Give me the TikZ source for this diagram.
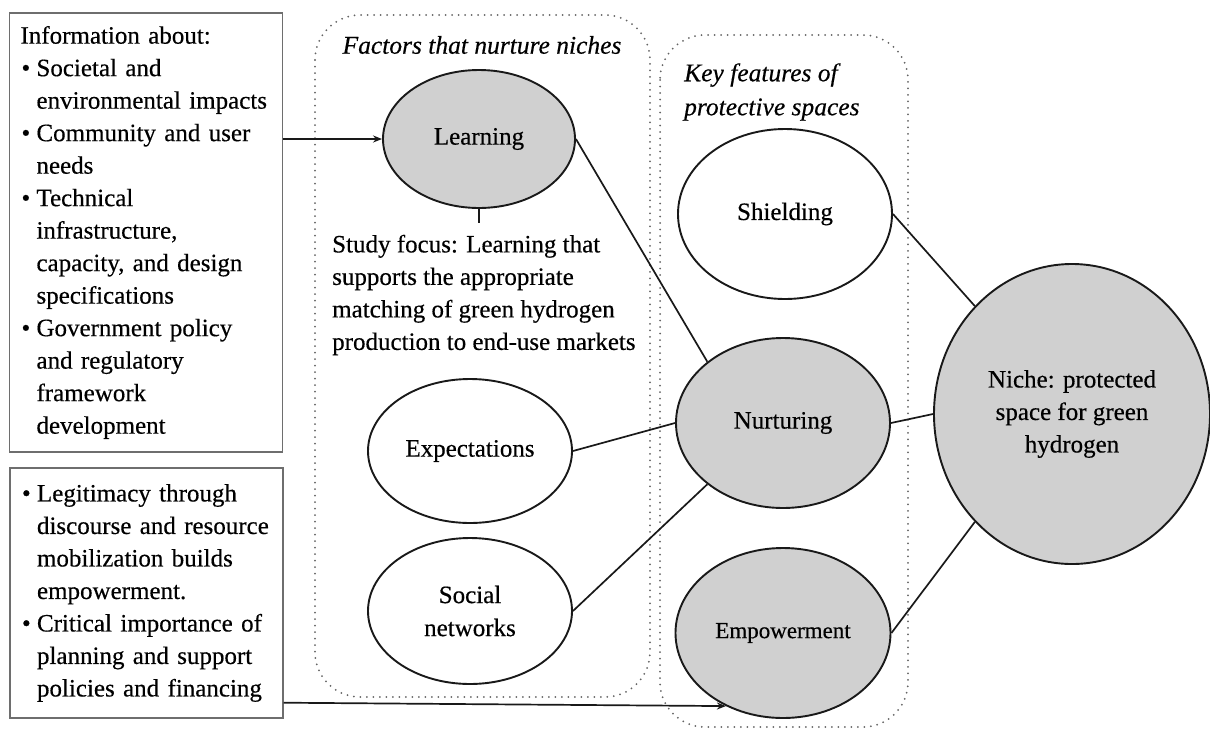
\documentclass[tikz,border=0pt]{standalone}
\usepackage{fontspec}
\setmainfont{Liberation Serif}[FakeBold=0.4,AutoFakeBold=0.4]
\usetikzlibrary{shapes.geometric,arrows.meta}
\definecolor{nichegray}{RGB}{208,208,208}
\definecolor{framegray}{RGB}{110,110,110}
\definecolor{dotgray}{RGB}{100,100,100}
% bullet and hanging indent for the information lists
\newcommand\infobullet{\makebox[16pt][l]{\hspace{1pt}\textbullet}}
\newcommand\contline{\hspace*{16pt}}
\begin{document}
\begin{tikzpicture}[x=1pt,y=-1pt,
  txt/.style={font=\fontsize{25}{32.5}\selectfont\bfseries},
  infobox/.style={draw=framegray, line width=1.4pt, align=left, text width=251pt,
    inner xsep=11pt, inner ysep=0pt, txt},
  oval/.style={ellipse, draw=black!90, fill=white, line width=1.9pt, inner sep=0pt,
    align=center, txt},
  filled/.style={oval, fill=nichegray},
  region/.style={draw=dotgray, line width=2pt, dash pattern=on 0pt off 6.5pt,
    line cap=round, rounded corners=45pt},
  link/.style={draw=black!90, line width=1.7pt},
  feed/.style={link, -{Stealth[length=9pt,width=7pt]}},
  heading/.style={font=\fontsize{25.5}{34}\selectfont\itshape\bfseries, align=left, inner sep=0pt},
]
\useasboundingbox (0,0) rectangle (1210,729);

% dotted groupings
\draw[region] (315,15) rectangle (650,697);
\draw[region] (660,35) rectangle (908,727);

% group headings
\node[heading] (hfactors) at (482,45) {Factors that nurture niches};
\node[heading, anchor=west] (hfeatures) at (684,92) {Key features of\\protective spaces};

% information boxes
\node[infobox, minimum height=439pt] (topbox) at (146,232.5) {%
Information about:\\
\infobullet Societal and\\
\contline environmental impacts\\
\infobullet Community and user\\
\contline needs\\
\infobullet Technical\\
\contline infrastructure,\\
\contline capacity, and design\\
\contline specifications\\
\infobullet Government policy\\
\contline and regulatory\\
\contline framework\\
\contline development};

\node[infobox, minimum height=250pt] (botbox) at (146.5,593) {%
\infobullet Legitimacy through\\
\contline discourse and resource\\
\contline mobilization builds\\
\contline empowerment.\\
\infobullet Critical importance of\\
\contline planning and support\\
\contline policies and financing};

% factors that nurture niches
\node[filled, minimum width=192pt, minimum height=138pt] (learn) at (479,139) {Learning};
\node[txt, align=left, anchor=west, inner sep=0pt] (study) at (332,295) {%
Study focus: Learning that\\
supports the appropriate\\
matching of green hydrogen\\
production to end-use markets};
\coordinate (studytop) at (479,223);
\node[oval, minimum width=204pt, minimum height=144pt] (expe) at (470,451) {Expectations};
\node[oval, minimum width=204pt, minimum height=146pt] (soc) at (470,611)
  {Social\\[0.5pt]networks};

% key features of protective spaces
\node[oval, minimum width=214pt, minimum height=170pt] (shield) at (785,214) {Shielding};
\node[filled, minimum width=214pt, minimum height=170pt] (nurt) at (783,423) {Nurturing};
\node[filled, minimum width=215pt, minimum height=170pt,
  font=\fontsize{23}{30}\selectfont\bfseries] (emp) at (783,633) {Empowerment};

% the niche
\node[filled, minimum width=276pt, minimum height=300pt] (niche) at (1072,414)
  {Niche: protected\\space for green\\hydrogen};

% connectors
\draw[feed] (topbox.east |- learn.west) -- (learn.west);
\draw[feed] (botbox.south east) ++(0,-16) -- (emp.232);
\draw[link] (learn.south) -- (studytop);
\draw[link] (learn.east) -- (nurt.141);
\draw[link] (expe.east) -- (nurt.west);
\draw[link] (soc.east) -- (nurt.219);
\draw[link] (shield.east) -- (niche.132);
\draw[link] (nurt.east) -- (niche.west);
\draw[link] (emp.east) -- (niche.228);
\end{tikzpicture}
\end{document}
